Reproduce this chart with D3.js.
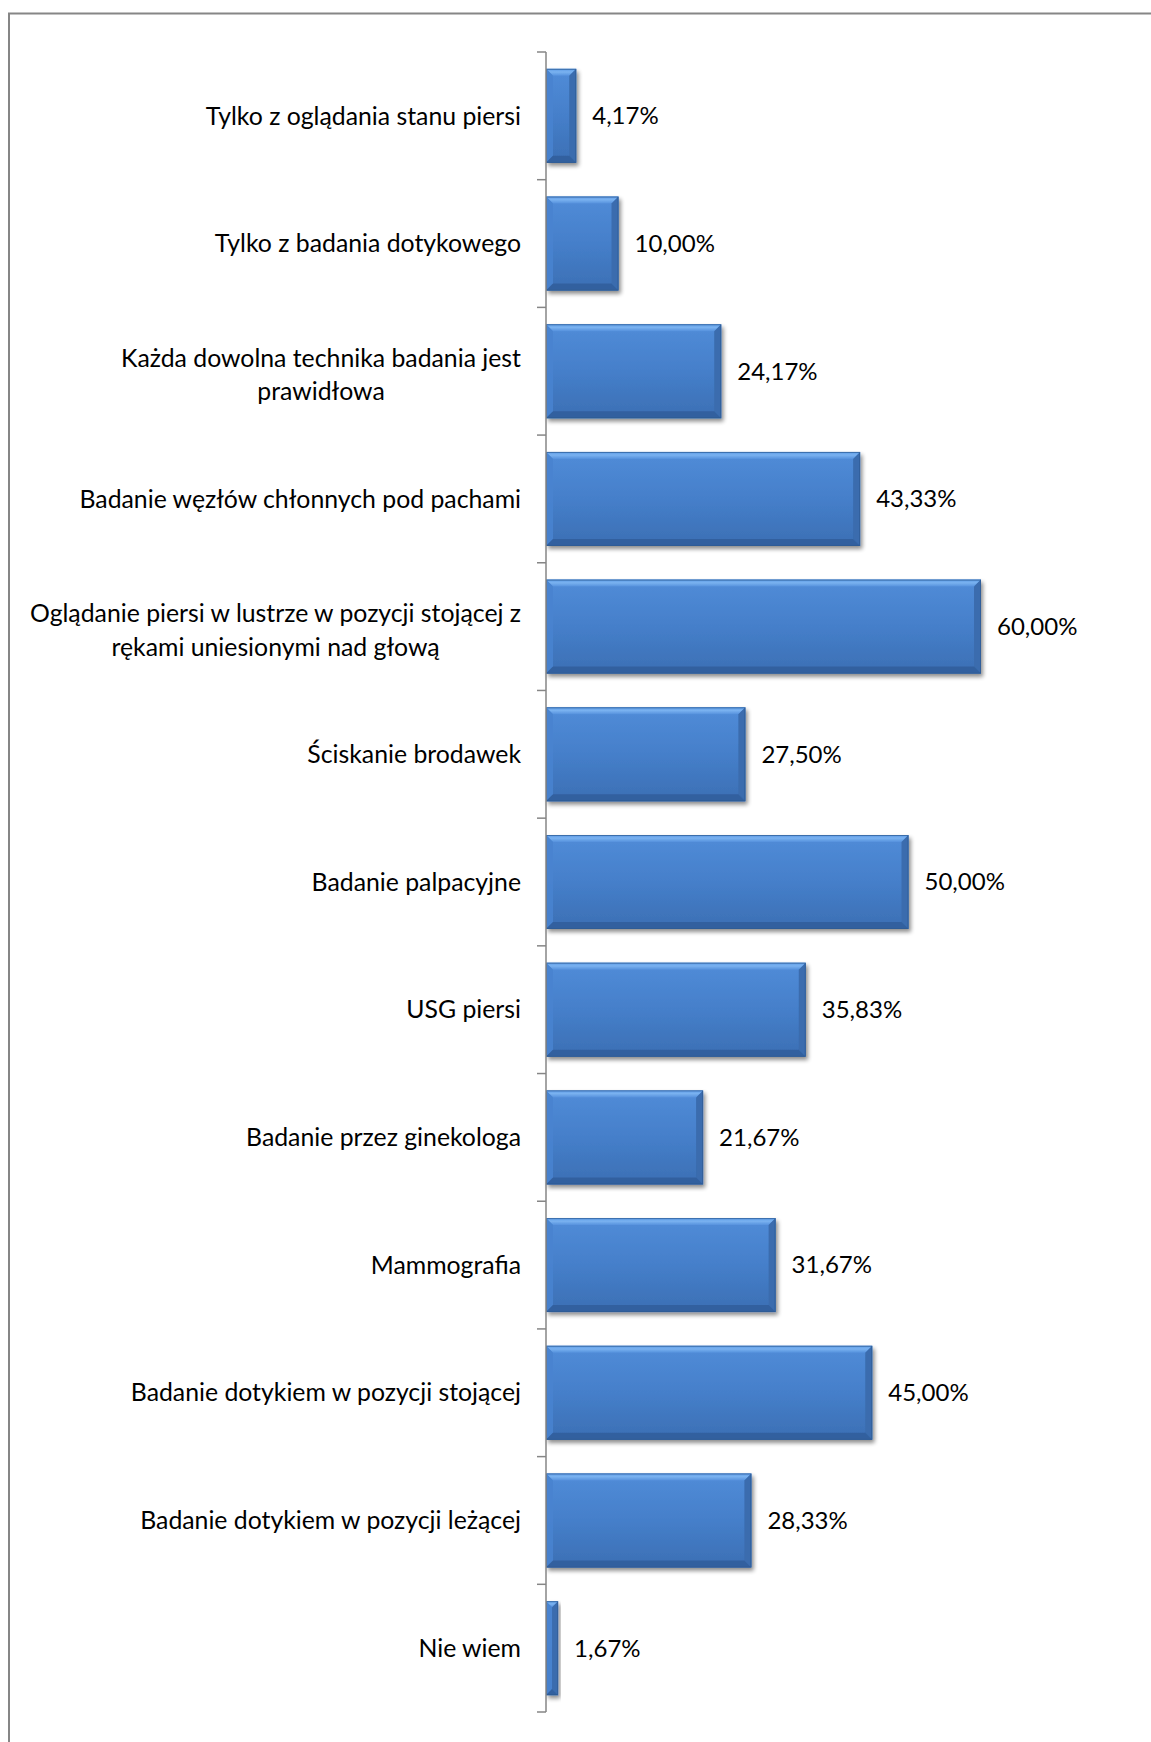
<!DOCTYPE html>
<html>
<head>
<meta charset="utf-8">
<script src="https://cdn.jsdelivr.net/npm/d3@7"></script>
<style>
  html, body { margin: 0; padding: 0; background: #ffffff; }
  svg { display: block; }
  text { font-family: Lato, "Open Sans", sans-serif; fill: #000; }
</style>
</head>
<body>
<svg id="chart" width="1151" height="1742"></svg>
<script>
// Categories (top to bottom); "\n" marks a line break in the label
const categories = [
  "Tylko z oglądania stanu piersi",
  "Tylko z badania dotykowego",
  "Każda dowolna technika badania jest\nprawidłowa",
  "Badanie węzłów chłonnych pod pachami",
  "Oglądanie piersi w lustrze w pozycji stojącej z\nrękami uniesionymi nad głową",
  "Ściskanie brodawek",
  "Badanie palpacyjne",
  "USG piersi",
  "Badanie przez ginekologa",
  "Mammografia",
  "Badanie dotykiem w pozycji stojącej",
  "Badanie dotykiem w pozycji leżącej",
  "Nie wiem"
];
// Share of answers, percent
const values = [4.17, 10.00, 24.17, 43.33, 60.00, 27.50, 50.00, 35.83, 21.67, 31.67, 45.00, 28.33, 1.67];
const valueLabels = ["4,17%", "10,00%", "24,17%", "43,33%", "60,00%", "27,50%", "50,00%", "35,83%", "21,67%", "31,67%", "45,00%", "28,33%", "1,67%"];
const axisMax = 70;

const svg = d3.select("#chart");
const W = 1151, H = 1742;
const plot = { left: 546, top: 52, bottom: 1712, right: 1053.5 };
const catFontSize = 24.8;
const valFontSize = 24;

// outer chart frame (right/bottom edges run off the canvas)
svg.append("rect")
  .attr("x", 9).attr("y", 13.5)
  .attr("width", W + 20).attr("height", H + 20)
  .attr("fill", "#fff")
  .attr("stroke", "#868686").attr("stroke-width", 2);

const x = d3.scaleLinear().domain([0, axisMax]).range([plot.left, plot.right]);
const y = d3.scaleBand().domain(d3.range(categories.length))
  .range([plot.top, plot.bottom]).paddingInner(0.264).paddingOuter(0.132);

const defs = svg.append("defs");
const body = defs.append("linearGradient").attr("id", "barBody")
  .attr("x1", 0).attr("y1", 0).attr("x2", 0).attr("y2", 1);
body.append("stop").attr("offset", "0%").attr("stop-color", "#518cd8");
body.append("stop").attr("offset", "50%").attr("stop-color", "#457fca");
body.append("stop").attr("offset", "100%").attr("stop-color", "#3c6fb4");

const topBevel = defs.append("linearGradient").attr("id", "bevelTop")
  .attr("x1", 0).attr("y1", 0).attr("x2", 0).attr("y2", 1);
topBevel.append("stop").attr("offset", "0%").attr("stop-color", "#5d9be6");
topBevel.append("stop").attr("offset", "45%").attr("stop-color", "#7ab2f0");
topBevel.append("stop").attr("offset", "100%").attr("stop-color", "#5591dd");

const shadow = defs.append("filter").attr("id", "barShadow")
  .attr("x", "-10%").attr("y", "-10%").attr("width", "130%").attr("height", "130%");
shadow.append("feGaussianBlur").attr("in", "SourceAlpha").attr("stdDeviation", 2.2).attr("result", "b");
shadow.append("feOffset").attr("in", "b").attr("dx", 2).attr("dy", 3).attr("result", "o");
shadow.append("feComponentTransfer").attr("in", "o").attr("result", "s")
  .append("feFuncA").attr("type", "linear").attr("slope", 0.45);
const merge = shadow.append("feMerge");
merge.append("feMergeNode").attr("in", "s");
merge.append("feMergeNode").attr("in", "SourceGraphic");

// bars with bevelled edges
const bars = svg.append("g").selectAll("g.bar")
  .data(values).join("g").attr("class", "bar")
  .attr("filter", "url(#barShadow)");

bars.each(function (v, i) {
  const g = d3.select(this);
  const x0 = x(0), x1 = x(v), y0 = y(i), y1 = y(i) + y.bandwidth();
  const b = Math.min(7, (x1 - x0) / 2);
  g.append("rect").attr("x", x0).attr("y", y0)
    .attr("width", x1 - x0).attr("height", y1 - y0).attr("fill", "url(#barBody)");
  // top bevel
  g.append("path").attr("d", `M${x0},${y0}L${x1},${y0}L${x1 - b},${y0 + b}L${x0 + b},${y0 + b}Z`)
    .attr("fill", "url(#bevelTop)");
  // left bevel
  g.append("path").attr("d", `M${x0},${y0}L${x0 + b},${y0 + b}L${x0 + b},${y1 - b}L${x0},${y1}Z`)
    .attr("fill", "#4883cf").attr("opacity", 0.9);
  // right bevel
  g.append("path").attr("d", `M${x1},${y0}L${x1},${y1}L${x1 - b},${y1 - b}L${x1 - b},${y0 + b}Z`)
    .attr("fill", "#3a6cae");
  // bottom bevel
  g.append("path").attr("d", `M${x0},${y1}L${x1},${y1}L${x1 - b},${y1 - b}L${x0 + b},${y1 - b}Z`)
    .attr("fill", "#33619f");
  g.append("rect").attr("x", x0 + 0.5).attr("y", y0 + 0.5)
    .attr("width", Math.max(0, x1 - x0 - 1)).attr("height", y1 - y0 - 1)
    .attr("fill", "none").attr("stroke", "#2c5a92").attr("stroke-width", 1).attr("opacity", 0.7);
});

// category axis line and tick marks at band boundaries
const axisG = svg.append("g");
axisG.append("line")
  .attr("x1", plot.left).attr("x2", plot.left)
  .attr("y1", plot.top).attr("y2", plot.bottom)
  .attr("stroke", "#868686").attr("stroke-width", 1.5);
axisG.selectAll("line.tick")
  .data(d3.range(categories.length + 1)).join("line").attr("class", "tick")
  .attr("x1", plot.left - 9).attr("x2", plot.left)
  .attr("y1", d => plot.top + d * (plot.bottom - plot.top) / categories.length)
  .attr("y2", d => plot.top + d * (plot.bottom - plot.top) / categories.length)
  .attr("stroke", "#868686").attr("stroke-width", 1.5);

// category labels, multi-line ones centred inside a right-aligned block
const labelRight = plot.left - 25;
const lineH = 33.5;
svg.append("g").selectAll("g.cat")
  .data(categories).join("g").attr("class", "cat")
  .each(function (c, i) {
    const g = d3.select(this);
    const lines = c.split("\n");
    const cy = y(i) + y.bandwidth() / 2 + (lines.length > 1 ? 3.5 : 0);
    const texts = lines.map((l, k) => g.append("text")
      .attr("font-size", catFontSize)
      .attr("y", cy + (k - (lines.length - 1) / 2) * lineH)
      .attr("dy", "0.35em")
      .text(l));
    if (lines.length === 1) {
      texts[0].attr("x", labelRight).attr("text-anchor", "end");
    } else {
      const maxW = d3.max(texts, t => t.node().getComputedTextLength());
      texts.forEach(t => t.attr("x", labelRight - maxW / 2).attr("text-anchor", "middle"));
    }
  });

// value labels
svg.append("g").selectAll("text")
  .data(values).join("text")
  .attr("font-size", valFontSize)
  .attr("x", d => x(d) + 16)
  .attr("y", (d, i) => y(i) + y.bandwidth() / 2)
  .attr("dy", "0.35em")
  .text((d, i) => valueLabels[i]);
</script>
</body>
</html>
